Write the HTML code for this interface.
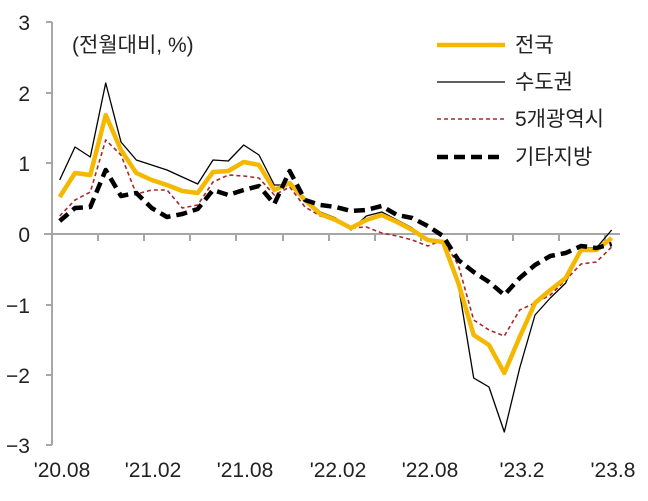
<!DOCTYPE html>
<html><head><meta charset="utf-8"><style>
body{margin:0;background:#fff}
text{font-family:"Liberation Sans","Noto Sans CJK KR",sans-serif;fill:#222}
</style></head><body>
<svg width="648" height="496" viewBox="0 0 648 496" xmlns="http://www.w3.org/2000/svg">
<g stroke="#a6a6a6" stroke-width="2" fill="none">
<line x1="52" y1="22" x2="52" y2="445"/>
<line x1="46" y1="22" x2="52" y2="22"/><line x1="46" y1="93" x2="52" y2="93"/><line x1="46" y1="163" x2="52" y2="163"/>
<line x1="46" y1="305" x2="52" y2="305"/><line x1="46" y1="375" x2="52" y2="375"/><line x1="46" y1="445" x2="52" y2="445"/>
<line x1="44" y1="234" x2="620" y2="234"/>
<path d="M98 234v7M144 234v7M190 234v7M236 234v7M283 234v7M329 234v7M375 234v7M421 234v7M467 234v7M513 234v7M559 234v7M605 234v7"/>
</g>
<g font-size="21" text-anchor="end">
<text x="30" y="30">3</text><text x="30" y="101">2</text><text x="30" y="171">1</text><text x="30" y="242">0</text>
<text x="30" y="313">−1</text><text x="30" y="383">−2</text><text x="30" y="453">−3</text>
</g>
<g font-size="21" text-anchor="middle">
<text x="62" y="477">'20.08</text><text x="153" y="477">'21.02</text><text x="245" y="477">'21.08</text>
<text x="338" y="477">'22.02</text><text x="430" y="477">'22.08</text><text x="522" y="477">'23.2</text><text x="613" y="477">'23.8</text>
</g>
<text x="72" y="52" font-size="21">(전월대비, %)</text>
<g fill="none" stroke-linejoin="round">
<polyline stroke="#a52a2a" stroke-width="1.6" stroke-dasharray="4,3" points="59.7,216 75,200 90.3,192 105.7,140 121,155 136.3,194 151.7,190 167,190 182.3,208 197.7,205 213,182 228.3,175 243.7,176 259,178 274.3,195 289.7,187 305,207 320.3,216 335.7,220 351,228 366.3,227 381.7,233 397,236 412.3,240 427.7,246 443,240 458.3,265 473.7,320 489,330 504.3,336 519.7,310 535,303 550.3,295 565.7,280 581,264 596.3,262 611.7,247"/>
<polyline stroke="#000" stroke-width="1.3" points="59.7,180 75,147 90.3,157 105.7,83 121,142 136.3,160 151.7,165 167,170 182.3,177 197.7,184 213,160 228.3,161 243.7,145 259,155 274.3,185 289.7,185 305,198 320.3,212 335.7,218 351,230 366.3,216 381.7,212 397,220 412.3,228 427.7,240 443,242 458.3,285 473.7,378 489,387 504.3,432 519.7,368 535,315 550.3,298 565.7,283 581,248 596.3,248 611.7,230"/>
<polyline stroke="#f5b800" stroke-width="4.5" points="59.7,197 75,173 90.3,175 105.7,115 121,150 136.3,173 151.7,180 167,185 182.3,191 197.7,193 213,172 228.3,171 243.7,162 259,165 274.3,190 289.7,183 305,200 320.3,214 335.7,220 351,228 366.3,220 381.7,215 397,222 412.3,230 427.7,240 443,242 458.3,283 473.7,335 489,345 504.3,373 519.7,337 535,303 550.3,290 565.7,278 581,250 596.3,250 611.7,238"/>
<polyline stroke="#000" stroke-width="4.5" stroke-dasharray="11,6" points="59.7,221 75,208 90.3,207 105.7,170 121,196 136.3,193 151.7,208 167,217 182.3,214 197.7,209 213,190 228.3,195 243.7,190 259,186 274.3,204 289.7,171 305,200 320.3,205 335.7,207 351,211 366.3,210 381.7,206 397,215 412.3,218 427.7,226 443,236 458.3,260 473.7,272 489,282 504.3,295 519.7,278 535,265 550.3,256 565.7,253 581,246 596.3,248 611.7,244"/>
</g>
<g fill="none">
<line x1="437" y1="45" x2="505" y2="45" stroke="#f5b800" stroke-width="4.5"/>
<line x1="437" y1="82" x2="505" y2="82" stroke="#000" stroke-width="1.3"/>
<line x1="437" y1="119" x2="505" y2="119" stroke="#a52a2a" stroke-width="1.6" stroke-dasharray="4,3"/>
<line x1="437" y1="157" x2="505" y2="157" stroke="#000" stroke-width="4.5" stroke-dasharray="11,6"/>
</g>
<g font-size="21">
<text x="515" y="52">전국</text><text x="515" y="89">수도권</text><text x="515" y="126">5개광역시</text><text x="515" y="164">기타지방</text>
</g>
</svg>
</body></html>
